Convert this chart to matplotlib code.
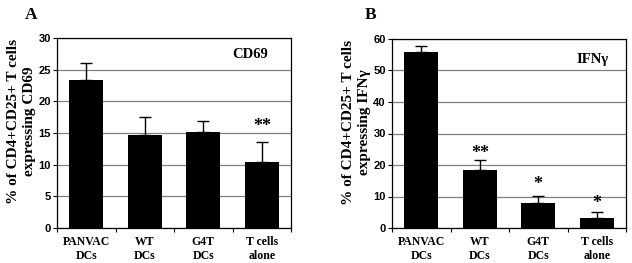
import numpy as np
import matplotlib
matplotlib.use("Agg")
import matplotlib.pyplot as plt

groups = ["PANVAC\nDCs", "WT\nDCs", "G4T\nDCs", "T cells\nalone"]
cd69 = [23.3, 14.7, 15.1, 10.5]
cd69_err = [2.8, 2.9, 1.8, 3.1]
cd69_sig = ["", "", "", "**"]
cd69_sig_y = [0, 0, 0, 16.1]
ifng = [55.8, 18.5, 7.8, 3.2]
ifng_err = [2.0, 3.0, 2.3, 1.8]
ifng_sig = ["", "**", "*", "*"]
ifng_sig_y = [0, 23.8, 13.7, 7.9]

SERIF = "Liberation Serif"
SANS = "Liberation Sans"

fig = plt.figure(figsize=(6.32, 2.63), dpi=100)
W, H = 632, 263


def panel(rect, vals, errs, sig, sig_y, ymax, step, label, label_xy, ylabel, letter, letter_xy):
    l, t, r, b = rect
    ax = fig.add_axes([l / W, 1 - b / H, (r - l) / W, (b - t) / H])
    x = np.arange(len(vals))
    ax.bar(x, vals, width=0.58, color="black", zorder=3)
    ax.errorbar(x, vals, yerr=[np.zeros(len(vals)), errs], fmt="none", ecolor="black",
                elinewidth=1.0, capsize=4.3, capthick=1.0, zorder=4)
    for xi, s, sy in zip(x, sig, sig_y):
        if s:
            ax.text(xi, sy, s, ha="center", va="center",
                    fontsize=13, fontweight="bold", family=SERIF)
    ax.set_xlim(-0.5, len(vals) - 0.5)
    ax.set_ylim(0, ymax)
    ax.set_yticks(np.arange(0, ymax + 0.1, step))
    ax.yaxis.grid(True, color="#808080", lw=0.9, zorder=0)
    ax.set_xticks(x)
    ax.set_xticklabels(groups, family=SERIF, fontweight="bold", fontsize=8.5, linespacing=1.15)
    ax.set_xticks(np.arange(-0.5, len(vals)), minor=True)
    ax.tick_params(axis="x", which="major", length=0, pad=6)
    ax.tick_params(axis="x", which="minor", length=3, width=0.8)
    ax.tick_params(axis="y", length=3, width=0.8, pad=1.5)
    for tl in ax.get_yticklabels():
        tl.set_family(SANS)
        tl.set_fontweight("bold")
        tl.set_fontsize(8)
    for sp in ax.spines.values():
        sp.set_linewidth(0.9)
    ax.text(label_xy[0], label_xy[1], label, transform=ax.transAxes, ha="right", va="center",
            family=SERIF, fontweight="bold", fontsize=10.5)
    ax.set_ylabel(ylabel, family=SERIF, fontweight="bold", fontsize=11, labelpad=2, linespacing=1.3)
    ax.yaxis.set_label_coords(-0.09, 0.56)
    fig.text(letter_xy[0] / W, 1 - letter_xy[1] / H, letter, family=SERIF,
             fontweight="bold", fontsize=12.5, ha="center", va="center")
    return ax


panel((57, 38, 291, 228), cd69, cd69_err, cd69_sig, cd69_sig_y, 30, 5, "CD69", (0.90, 0.915),
      "% of CD4+CD25+ T cells\nexpressing CD69", "A", (31, 15))
panel((392, 39, 626, 228), ifng, ifng_err, ifng_sig, ifng_sig_y, 60, 10, "IFNγ", (0.925, 0.89),
      "% of CD4+CD25+ T cells\nexpressing IFNγ", "B", (371, 15))

fig.savefig("out.png", dpi=100)
